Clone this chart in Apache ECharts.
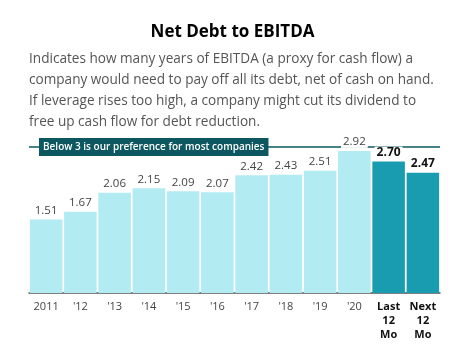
<!DOCTYPE html>
<html><head><meta charset="utf-8">
<script src="https://cdn.jsdelivr.net/npm/echarts@6/dist/echarts.min.js"></script>
<style>html,body{margin:0;padding:0;background:#fff}#c{width:465px;height:359px}</style>
</head><body><div id="c"></div>
<script>
const categories = ['2011', "'12", "'13", "'14", "'15", "'16", "'17", "'18", "'19", "'20", 'Last\n12\nMo', 'Next\n12\nMo'];
const values = [1.51, 1.67, 2.06, 2.15, 2.09, 2.07, 2.42, 2.43, 2.51, 2.92, 2.70, 2.47];
const highlighted = [false, false, false, false, false, false, false, false, false, false, true, true];
const threshold = 3;
const titleText = 'Net Debt to EBITDA';
const subText = 'Indicates how many years of EBITDA (a proxy for cash flow) a\ncompany would need to pay off all its debt, net of cash on hand.\nIf leverage rises too high, a company might cut its dividend to\nfree up cash flow for debt reduction.';
const noteText = 'Below 3 is our preference for most companies';

const FONT = '"Open Sans", sans-serif';
const chart = echarts.init(document.getElementById('c'), null, {renderer: 'canvas'});
chart.setOption({
  animation: false,
  textStyle: {fontFamily: FONT},
  title: [
    {text: titleText, left: 'center', top: 19, textStyle: {fontFamily: FONT, fontSize: 17, fontWeight: 'bold', color: '#000'}},
    {text: subText, left: 24, top: 43, textStyle: {fontFamily: FONT, fontSize: 13.6, fontWeight: 'normal', color: '#555', lineHeight: 21.3}}
  ],
  grid: {left: 29, right: 25, top: 147, bottom: 66},
  xAxis: {
    type: 'category',
    data: categories.map((c, i) => highlighted[i]
      ? {value: c, textStyle: {fontWeight: 'bold', color: '#111'}}
      : c),
    axisLine: {lineStyle: {color: '#555', width: 1.5}},
    axisTick: {alignWithLabel: true, length: 4, lineStyle: {color: '#555'}},
    axisLabel: {fontFamily: FONT, fontSize: 11, color: '#444', margin: 7, lineHeight: 14, interval: 0}
  },
  yAxis: {type: 'value', min: 0, max: 3, show: false, splitLine: {show: false}},
  series: [{
    type: 'bar',
    barCategoryGap: '5%',
    data: values.map((v, i) => ({
      value: v,
      itemStyle: {color: highlighted[i] ? '#1a9cb0' : '#b2ebf2'},
      label: highlighted[i] ? {fontWeight: 'bold', color: '#111', fontSize: 12} : {}
    })),
    label: {
      show: true, position: 'top', distance: 3,
      fontFamily: FONT, fontSize: 11.5, color: '#444',
      backgroundColor: '#fff', padding: [0, 2],
      formatter: p => p.value.toFixed(2)
    },
    markLine: {
      silent: true, symbol: 'none', z: 1,
      lineStyle: {color: '#0d5761', width: 1.5, type: 'solid'},
      label: {show: false},
      data: [{yAxis: threshold}]
    }
  }],
  graphic: [{
    type: 'text', left: 39, top: 138, z: 100,
    style: {
      text: noteText, font: '600 10px ' + FONT, fill: '#fff',
      backgroundColor: '#0d5761', padding: [4, 4, 4, 4]
    }
  }]
});
</script></body></html>
